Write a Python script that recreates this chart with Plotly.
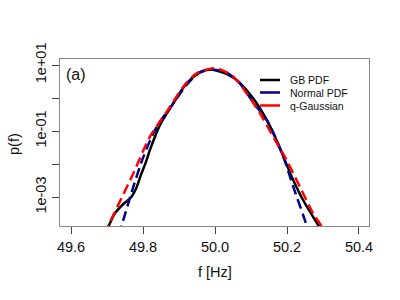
import plotly.graph_objects as go

# ---- data ----
gb_f = [49.690, 49.704, 49.722, 49.747, 49.767, 49.781, 49.794, 49.808, 49.819, 49.847,
        49.884, 49.921, 49.958, 49.977, 49.995, 50.014, 50.030, 50.050, 50.069, 50.106,
        50.144, 50.171, 50.194, 50.2175, 50.245, 50.287, 50.300]
gb_p = [7.0e-5, 1.32e-4, 3.27e-4, 6.46e-4, 1.0e-3, 1.87e-3, 4.65e-3, 1.15e-2, 2.65e-2, 0.152,
        0.69, 2.79, 6.01, 7.05, 7.2, 6.3, 5.5, 4.17, 2.88, 0.98,
        0.215, 0.0533, 0.0132, 3.27e-3, 8.1e-4, 1.41e-4, 8.3e-5]

norm_f = [49.733, 49.741, 49.773, 49.801, 49.838, 49.884, 49.921, 49.958, 49.996, 50.034,
          50.069, 50.108, 50.144, 50.190, 50.2175, 50.255, 50.260]
norm_p = [7.1e-5, 1.41e-4, 2.05e-3, 0.0166, 0.135, 0.69, 2.48, 6.01, 7.24, 5.75,
          2.79, 0.69, 0.215, 0.0166, 2.05e-3, 1.32e-4, 7.1e-5]

qg_f = [49.692, 49.704, 49.740, 49.773, 49.819, 49.866, 49.912, 49.949, 49.995, 50.014,
        50.051, 50.088, 50.125, 50.162, 50.199, 50.236, 50.273, 50.296, 50.305]
qg_p = [7.6e-5, 1.41e-4, 9.3e-4, 5.22e-3, 0.0671, 0.385, 2.2, 5.6, 7.94, 7.41,
        4.42, 1.39, 0.344, 0.0671, 0.0132, 2.05e-3, 3.2e-4, 1.32e-4, 7.6e-5]

x_ticks = [49.6, 49.8, 50.0, 50.2, 50.4]
x_tick_labels = ["49.6", "49.8", "50.0", "50.2", "50.4"]
y_ticks = [10, 1, 0.1, 0.01, 0.001]
y_tick_labels = ["1e+01", "", "1e-01", "", "1e-03"]

legend_names = ["GB PDF", "Normal PDF", "q-Gaussian"]
colors = ["#000000", "#00008B", "#FF0000"]

FONT = "Liberation Sans, Arial, sans-serif"

fig = go.Figure()
fig.add_trace(go.Scatter(x=gb_f, y=gb_p, mode="lines", name=legend_names[0],
                         line=dict(color=colors[0], width=2.5, shape="spline", smoothing=0.8)))
fig.add_trace(go.Scatter(x=norm_f, y=norm_p, mode="lines", name=legend_names[1],
                         line=dict(color=colors[1], width=2.5, dash="10px,5px", shape="spline", smoothing=0.8)))
fig.add_trace(go.Scatter(x=qg_f, y=qg_p, mode="lines", name=legend_names[2],
                         line=dict(color=colors[2], width=2.5, dash="10px,5px", shape="spline", smoothing=0.8)))

axis_common = dict(showgrid=False, zeroline=False, showline=True, linecolor="#888888", linewidth=1.2,
                   mirror=True, ticks="outside", ticklen=7, tickcolor="#444444", tickwidth=1,
                   tickfont=dict(family=FONT, size=14.5, color="#111111"))

fig.update_xaxes(range=[49.5694, 50.4278], tickvals=x_ticks, ticktext=x_tick_labels, **axis_common)
fig.update_yaxes(type="log", range=[-3.87, 1.182], tickvals=y_ticks, ticktext=y_tick_labels,
                 tickangle=-90, **axis_common)

W, H = 400, 300
ml, mr, mt, mb = 60, 31, 59, 74
pw, ph = W - ml - mr, H - mt - mb

def px2paper(x, y):
    return (x - ml) / pw, (H - mb - y) / ph

annotations = []
# axis titles
ax, ay = px2paper(214.5, 272)
annotations.append(dict(text="f [Hz]", x=ax, y=ay, xref="paper", yref="paper", showarrow=False,
                        xanchor="center", yanchor="middle", font=dict(family=FONT, size=14.5, color="#111111")))
ax, ay = px2paper(14, 144)
annotations.append(dict(text="p(f)", x=ax, y=ay, xref="paper", yref="paper", showarrow=False,
                        textangle=-90, xanchor="center", yanchor="middle",
                        font=dict(family=FONT, size=14.5, color="#111111")))
ax, ay = px2paper(76, 74)
annotations.append(dict(text="(a)", x=ax, y=ay, xref="paper", yref="paper", showarrow=False,
                        xanchor="center", yanchor="middle", font=dict(family=FONT, size=16, color="#111111")))

shapes = []
rows_y = [80, 92.5, 105.5]
for name, col, ry in zip(legend_names, colors, rows_y):
    x0, y0 = px2paper(260, ry)
    x1, _ = px2paper(280, ry)
    shapes.append(dict(type="line", xref="paper", yref="paper", x0=x0, x1=x1, y0=y0, y1=y0,
                       line=dict(color=col, width=2.5)))
    tx, ty = px2paper(288, ry)
    annotations.append(dict(text=name, x=tx, y=ty, xref="paper", yref="paper", showarrow=False,
                            xanchor="left", yanchor="middle",
                            font=dict(family=FONT, size=10.5, color="#111111")))

fig.update_layout(width=W, height=H, margin=dict(l=ml, r=mr, t=mt, b=mb),
                  paper_bgcolor="white", plot_bgcolor="white", showlegend=False,
                  annotations=annotations, shapes=shapes)

fig.write_html("out.html", config={"displayModeBar": False},
               post_script="document.body.style.margin='0px';")
